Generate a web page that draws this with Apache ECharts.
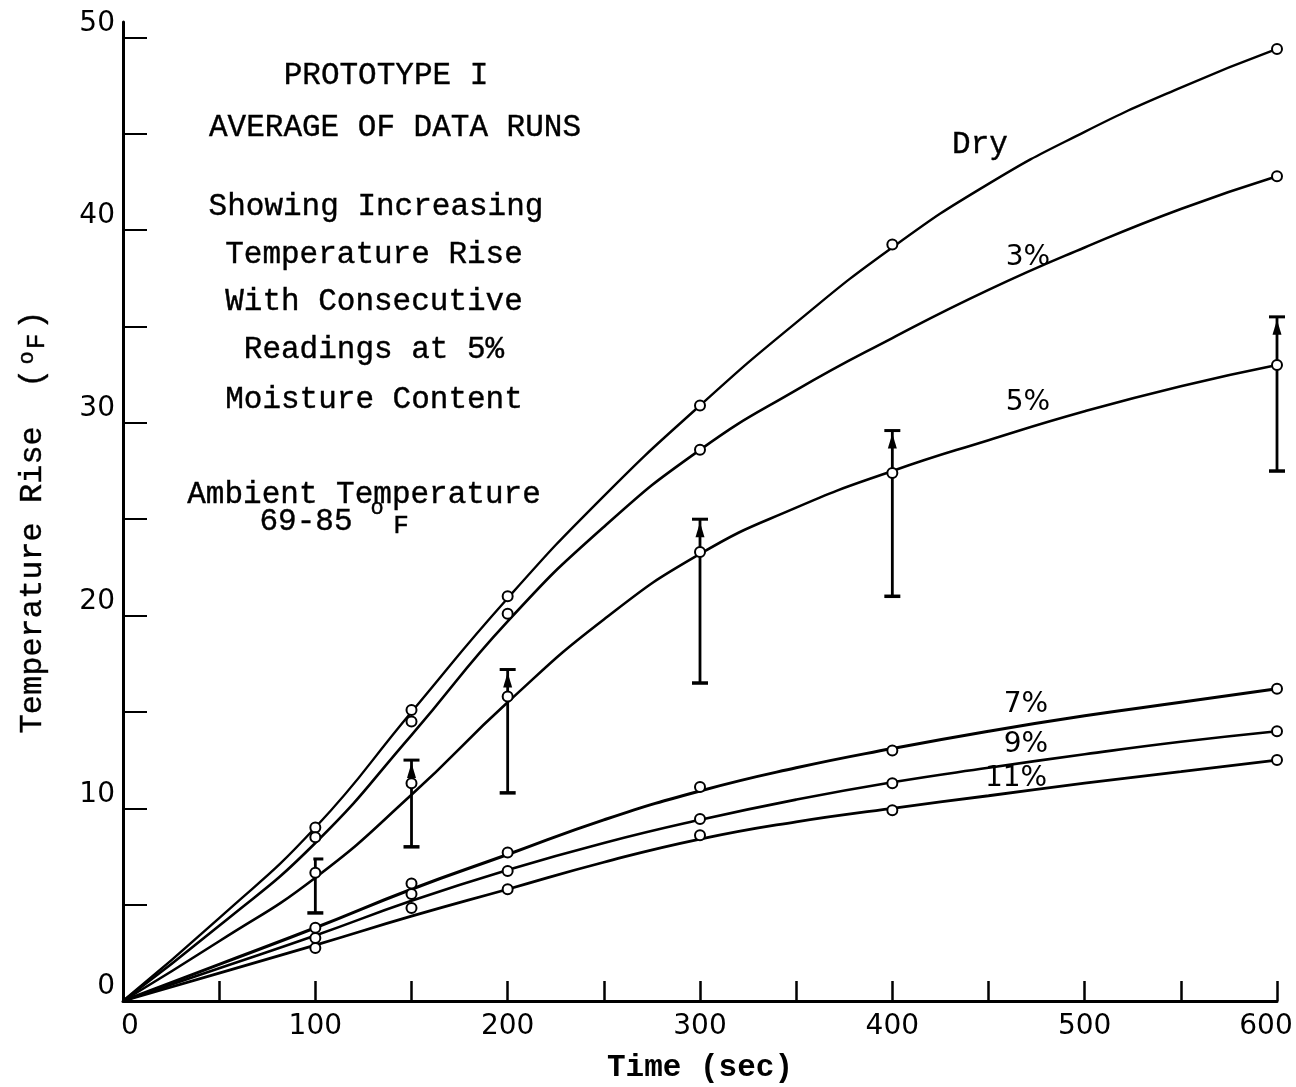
<!DOCTYPE html>
<html>
<head>
<meta charset="utf-8">
<script src="https://cdn.jsdelivr.net/npm/echarts@6/dist/echarts.min.js"></script>
<style>
html,body{margin:0;padding:0;background:#fff;}
#c{width:1296px;height:1087px;}
</style>
</head>
<body>
<div id="c"></div>
<script>
const times     = [100, 150, 200, 300, 400, 600];
const dry       = [9.0, 15.1, 21.0, 30.9, 39.25, 49.4];
const times3    = [100, 150, 200, 300, 600];
const pct3      = [8.5, 14.5, 20.1, 28.6, 42.8];
const pct5      = [6.65, 11.3, 15.8, 23.3, 27.4, 33.0];
const pct7      = [3.8, 6.1, 7.7, 11.1, 13.0, 16.2];
const pct9      = [3.27, 5.55, 6.75, 9.45, 11.3, 14.0];
const pct11     = [2.75, 4.83, 5.8, 8.6, 9.9, 12.5];
// ---- hand-drawn fitted curves ----
const curveT    = [0, 50, 100, 150, 200, 250, 300, 350, 400, 450, 500, 550, 600];
const curveDry  = [0, 4.3, 9.0, 15.0, 20.9, 26.2, 30.9, 35.2, 39.1, 42.4, 45.1, 47.4, 49.4];
const curve3    = [0, 3.9, 8.2, 13.8, 19.7, 24.6, 28.6, 31.7, 34.4, 36.9, 39.1, 41.1, 42.8];
const curve5    = [0, 3.1, 6.4, 10.7, 15.5, 19.8, 23.2, 25.6, 27.5, 29.1, 30.6, 31.9, 33.0];
const curve7    = [0, 1.9, 3.8, 5.8, 7.6, 9.4, 10.9, 12.1, 13.1, 14.0, 14.8, 15.5, 16.2];
const curve9    = [0, 1.7, 3.4, 5.2, 6.8, 8.2, 9.4, 10.45, 11.35, 12.1, 12.8, 13.45, 14.0];
const curve11   = [0, 1.45, 2.9, 4.4, 5.8, 7.2, 8.4, 9.3, 10.0, 10.65, 11.3, 11.9, 12.5];
// ---- 5% spread bars ----
const errTimes  = [100, 150, 200, 300, 400, 600];
const errLow    = [4.57, 8.0, 10.8, 16.5, 21.0, 27.5];
const errHigh   = [7.37, 12.5, 17.2, 25.0, 29.6, 35.5];
// ---- ticks ----
const xTickVals = [0, 50, 100, 150, 200, 250, 300, 350, 400, 450, 500, 550, 600];
const xLabelVals= [0, 100, 200, 300, 400, 500, 600];
const yTickVals = [0, 5, 10, 15, 20, 25, 30, 35, 40, 45, 50];
const yLabelVals= [0, 10, 20, 30, 40, 50];

const MONO = '"Liberation Mono", "DejaVu Sans Mono", monospace';
const SANS = '"DejaVu Sans", "Noto Sans", sans-serif';

function zip(xs, ys) { return xs.map((x, i) => [x, ys[i]]); }
function curve(name, ys, w) {
  return {
    name: name, type: 'line', smooth: 0.5, data: zip(curveT, ys),
    symbol: 'none', lineStyle: {color: '#000', width: w || 2.6}, z: 3, silent: true
  };
}
function marks(name, xs, ys) {
  return {
    name: name + ' pts', type: 'scatter', data: zip(xs, ys),
    symbol: 'circle', symbolSize: 10,
    itemStyle: {color: '#fff', borderColor: '#000', borderWidth: 2, opacity: 1},
    z: 4, silent: true
  };
}
function txt(text, x, y, font, extra) {
  return {type: 'text', silent: true, style: Object.assign({text: text, x: x, y: y, font: font, fill: '#000',
    stroke: '#000', lineWidth: 0.4, textAlign: 'center', textVerticalAlign: 'middle'}, extra || {})};
}
const lblFont = {fontFamily: SANS, fontSize: 28, color: '#000'};

const chart = echarts.init(document.getElementById('c'), null, {renderer: 'canvas'});
chart.setOption({
  animation: false,
  backgroundColor: '#fff',
  grid: {left: 123, right: 19, top: 22, bottom: 86, containLabel: false, outerBoundsMode: 'none'},
  xAxis: {
    type: 'value', min: 0, max: 600,
    name: 'Time (sec)', nameLocation: 'middle', nameGap: 52,
    nameTextStyle: {fontFamily: MONO, fontSize: 31, fontWeight: 'bold', color: '#000'},
    axisLine: {lineStyle: {color: '#000', width: 3}},
    axisTick: {inside: true, length: 20, lineStyle: {color: '#000', width: 2.5}, customValues: xTickVals},
    axisLabel: {
      fontFamily: SANS, fontSize: 28, color: '#000', margin: 12, customValues: xLabelVals,
      formatter: function (v) { return v === 600 ? '{r|' + v + '}' : (v === 0 ? '{l|' + v + '}' : '{n|' + v + '}'); },
      rich: {
        n: lblFont,
        r: Object.assign({padding: [0, 22, 0, 0]}, lblFont),
        l: Object.assign({padding: [0, 0, 0, 14]}, lblFont)
      }
    },
    splitLine: {show: false}
  },
  yAxis: {
    type: 'value', min: 0, max: 50.8,
    axisLine: {lineStyle: {color: '#000', width: 3}},
    axisTick: {inside: true, length: 24, lineStyle: {color: '#000', width: 2}, customValues: yTickVals},
    axisLabel: {fontFamily: SANS, fontSize: 28, color: '#000', margin: 8, verticalAlign: 'bottom', customValues: yLabelVals},
    splitLine: {show: false}
  },
  series: [
    {
      type: 'custom', name: 'err', z: 2, silent: true,
      data: errTimes.map((t, i) => [t, errLow[i], errHigh[i]]),
      renderItem: function (params, api) {
        const lo = api.coord([api.value(0), api.value(1)]);
        const hi = api.coord([api.value(0), api.value(2)]);
        const w = 8;
        const x = lo[0];
        const children = [
          {type: 'line', shape: {x1: x, y1: lo[1], x2: x, y2: hi[1]}, style: {stroke: '#000', lineWidth: 2.8}},
          {type: 'line', shape: {x1: x - w, y1: lo[1], x2: x + w, y2: lo[1]}, style: {stroke: '#000', lineWidth: 3.5}},
          {type: 'line', shape: {x1: (params.dataIndex === 0 ? x - 2 : x - w), y1: hi[1], x2: x + w, y2: hi[1]}, style: {stroke: '#000', lineWidth: 3}}
        ];
        if (params.dataIndex > 0) {
          children.push({type: 'polygon', shape: {points: [[x, hi[1] + 3], [x - 4.5, hi[1] + 18], [x + 4.5, hi[1] + 18]]}, style: {fill: '#000'}});
        }
        return {type: 'group', children: children};
      }
    },
    curve('Dry', curveDry, 2.4),
    curve('3%', curve3, 2.6),
    curve('5%', curve5, 2.6),
    curve('7%', curve7, 3),
    curve('9%', curve9, 2.6),
    curve('11%', curve11, 2.8),
    marks('Dry', times, dry),
    marks('3%', times3, pct3),
    marks('5%', times, pct5),
    marks('7%', times, pct7),
    marks('9%', times, pct9),
    marks('11%', times, pct11)
  ],
  graphic: [
    txt('PROTOTYPE I', 386, 76, '31px ' + MONO),
    txt('AVERAGE OF DATA RUNS', 395, 128, '31px ' + MONO),
    txt('Showing Increasing', 376, 207, '31px ' + MONO),
    txt('Temperature Rise', 374, 255, '31px ' + MONO),
    txt('With Consecutive', 374, 302, '31px ' + MONO),
    txt('Readings at 5%', 374, 350, '31px ' + MONO),
    txt('Moisture Content', 374, 400, '31px ' + MONO),
    txt('Ambient Temperature', 364, 495, '31px ' + MONO),
    txt('69-85', 306, 522, '31px ' + MONO),
    txt('o', 377, 508, '22px ' + MONO),
    txt('F', 401, 526, '26px ' + MONO),
    txt('Dry', 980, 145, '31px ' + MONO),
    txt('3%', 1028, 258, '28px ' + SANS, {lineWidth: 0}),
    txt('5%', 1028, 403, '28px ' + SANS, {lineWidth: 0}),
    txt('7%', 1026, 705, '28px ' + SANS, {lineWidth: 0}),
    txt('9%', 1026, 745, '28px ' + SANS, {lineWidth: 0}),
    txt('11%', 1016, 779, '28px ' + SANS, {lineWidth: 0}),
    {
      type: 'text', silent: true, x: 33, y: 522, rotation: Math.PI / 2,
      style: {
        text: 'Temperature Rise  ({s|o}{f|F})', font: '32px ' + MONO, fill: '#000', stroke: '#000', lineWidth: 0.4,
        textAlign: 'center', textVerticalAlign: 'middle',
        rich: {
          s: {fontFamily: MONO, fontSize: 22, fill: '#000', verticalAlign: 'top', padding: [0, 2, 12, 4]},
          f: {fontFamily: MONO, fontSize: 26, fill: '#000', verticalAlign: 'bottom', padding: [8, 4, 0, 0]}
        }
      }
    }
  ]
});
</script>
</body>
</html>
